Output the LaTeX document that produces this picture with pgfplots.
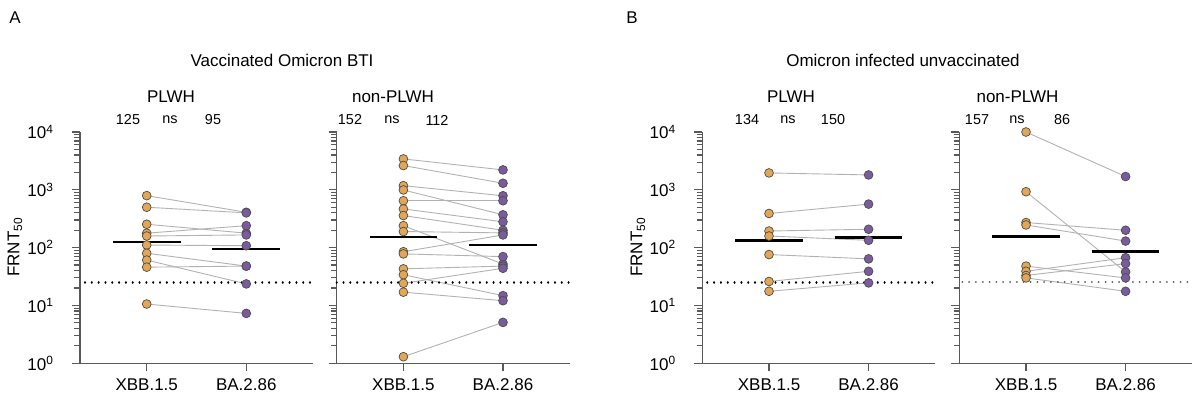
\documentclass[border=0pt]{standalone}
\usepackage{fontspec}
\setmainfont{Liberation Sans}
\usepackage{pgfplots}
\usepackage{pgfplotstable}
\pgfplotsset{compat=1.18}

\definecolor{xbbcol}{RGB}{226,166,84}
\definecolor{bacol}{RGB}{122,92,158}

% FRNT50 titres; x=1 XBB.1.5, x=2 BA.2.86; one column per participant
\pgfplotstableread{
x p1 p2 p3 p4 p5 p6 p7 p8 p9 p10
1 794 500 254 178 159 111 80 61 46 10.6
2 409 400 178 240 166 108 48 23.6 48 7.3
}\tA
\pgfplotstableread{
x p1 p2 p3 p4 p5 p6 p7 p8 p9 p10 p11 p12 p13 p14 p15 p16
1 3427 2630 1180 995 648 467 359 240 190 85 78 43 34 24.2 17 1.3
2 2210 1300 790 370 648 280 200 52 180 166 70 48 14.8 44 12.1 5.1
}\tB
\pgfplotstableread{
x p1 p2 p3 p4 p5 p6 p7
1 1960 390 194 159 76 26 17.6
2 1810 566 208 134 64 39 24.6
}\tC
\pgfplotstableread{
x p1 p2 p3 p4 p5 p6 p7 p8
1 10000 927 272 247 48 39 33 30
2 1700 38 200 130 30 67 53 17.6
}\tD

\pgfplotsset{
  frntaxis/.style={
    scale only axis, width=116.5pt, height=115.65pt,
    ymin=1, ymax=10000, xmin=0.33, xmax=2.67,
    axis lines=left, axis line style={-, black!65, line width=0.6pt},
    tick style={black!65, line width=0.6pt}, tick align=outside,
    major tick length=4pt,
    xtick={1,2}, xticklabels={XBB.1.5,BA.2.86},
    ytick={1,10,100,1000,10000}, minor ytick={},
    yticklabels={10\textsuperscript{0},10\textsuperscript{1},10\textsuperscript{2},10\textsuperscript{3},10\textsuperscript{4}},
    tick label style={font=\fontsize{8.5}{10}\selectfont},
    yticklabel style={xshift=-5.5pt},
    clip=false,
  },
  pairline/.style={gray!60, line width=0.45pt},
  xbbmark/.style={only marks, mark=*, mark size=2.2pt,
    mark options={fill=xbbcol, draw=black!70, line width=0.35pt}},
  bamark/.style={only marks, mark=*, mark size=2.2pt,
    mark options={fill=bacol, draw=black!70, line width=0.35pt}},
  lod/.style={black, line width=1.1pt, line cap=round, dash pattern=on 0.01pt off 3.4pt},
  gm/.style={black, line width=1.3pt},
}
\newcommand{\pairs}[2]{%
  \pgfplotsinvokeforeach{1,...,#2}{%
    \addplot[pairline] table[x=x, y=p##1]{#1};
  }%
  \pgfplotsinvokeforeach{1,...,#2}{%
    \addplot[xbbmark, restrict x to domain=0.5:1.5] table[x=x, y=p##1]{#1};
    \addplot[bamark, restrict x to domain=1.5:2.5] table[x=x, y=p##1]{#1};
  }%
}
\newcommand{\ttl}{\fontsize{8.5}{10}\selectfont}
\newcommand{\smallnum}{\fontsize{7.2}{9}\selectfont}

\begin{document}
\begin{tikzpicture}
\path[use as bounding box] (0,0) rectangle (597pt,-200.5pt);

% panel A, PLWH
\begin{axis}[ymode=log, frntaxis, anchor=south west, at={(40pt,-181.65pt)}]
\pairs{\tA}{10}
\addplot[lod] coordinates {(0.38,25) (2.67,25)};
\addplot[gm] coordinates {(0.66,125) (1.34,125)};
\addplot[gm] coordinates {(1.66,95) (2.34,95)};
\end{axis}
% panel A, non-PLWH
\begin{axis}[ymode=log, frntaxis, yticklabels={,,,,,}, anchor=south west, at={(168.35pt,-181.65pt)}]
\pairs{\tB}{16}
\addplot[lod] coordinates {(0.33,25) (2.67,25)};
\addplot[gm] coordinates {(0.66,152) (1.34,152)};
\addplot[gm] coordinates {(1.66,112) (2.34,112)};
\end{axis}
% panel B, PLWH
\begin{axis}[ymode=log, frntaxis, anchor=south west, at={(351.15pt,-181.65pt)}]
\pairs{\tC}{7}
\addplot[lod] coordinates {(0.38,25) (2.67,25)};
\addplot[gm] coordinates {(0.66,134) (1.34,134)};
\addplot[gm] coordinates {(1.66,150) (2.34,150)};
\end{axis}
% panel B, non-PLWH
\begin{axis}[ymode=log, frntaxis, yticklabels={,,,,,}, anchor=south west, at={(479.65pt,-181.65pt)}]
\pairs{\tD}{8}
\addplot[lod, black!65, line width=1pt] coordinates {(0.36,25) (2.67,25)};
\addplot[gm] coordinates {(0.66,157) (1.34,157)};
\addplot[gm] coordinates {(1.66,86) (2.34,86)};
\end{axis}

\node[font=\ttl] at (7.5pt,-9pt) {A};
\node[font=\ttl] at (316pt,-9pt) {B};
\node[font=\ttl] at (141pt,-30pt) {Vaccinated Omicron BTI};
\node[font=\ttl] at (451.5pt,-30pt) {Omicron infected unvaccinated};
\node[font=\ttl] at (85.5pt,-48.5pt) {PLWH};
\node[font=\ttl] at (196.5pt,-48.5pt) {non-PLWH};
\node[font=\ttl] at (395.5pt,-48.5pt) {PLWH};
\node[font=\ttl] at (508.75pt,-48.5pt) {non-PLWH};
\foreach \x/\t in {64/125,85/ns,106.5/95,175/152,196/ns,218.5/112,
                   373.5/134,394/ns,416.5/150,488.5/157,508.5/ns,531/86}
  \node[font=\smallnum] at (\x pt,-60pt) {\t};
\node[font=\ttl, rotate=90] at (7.5pt,-123.5pt) {FRNT\textsubscript{50}};
\node[font=\ttl, rotate=90] at (319pt,-123.5pt) {FRNT\textsubscript{50}};
\end{tikzpicture}
\end{document}
